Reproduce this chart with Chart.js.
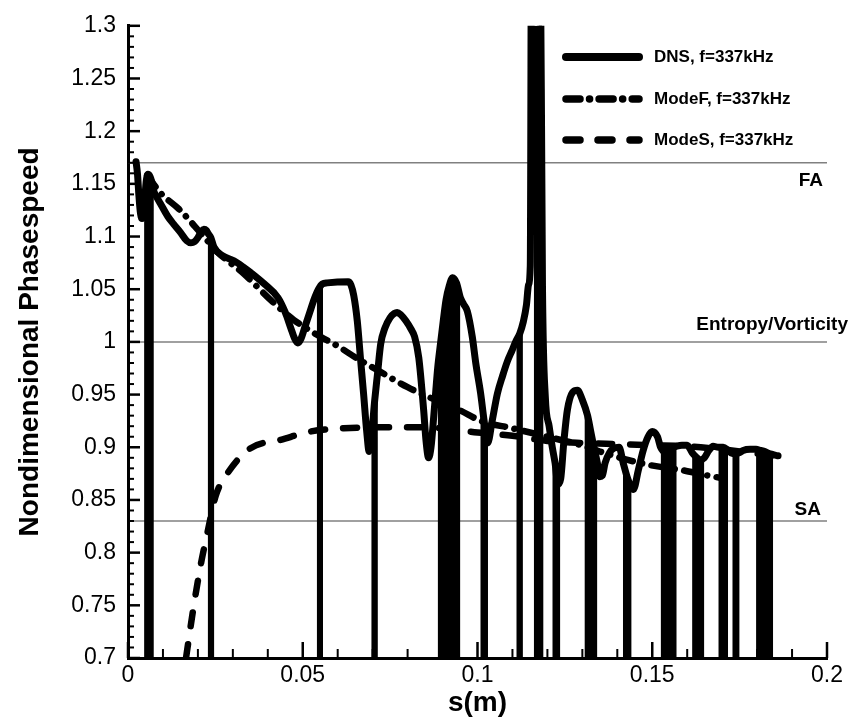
<!DOCTYPE html>
<html>
<head>
<meta charset="utf-8">
<script src="https://cdn.jsdelivr.net/npm/chart.js@4.4.1/dist/chart.umd.min.js"></script>
<style>
  body { margin: 0; background: #fff; }
</style>
</head>
<body>
<canvas id="chart" width="853" height="721"></canvas>
<script>
// s(m) vs nondimensional phase speed
const dnsPoints = [
  [0.0023, 1.171], [0.0027, 1.16], [0.0031, 1.14], [0.0035, 1.124], [0.0040, 1.117], [0.0044, 1.12],
  [0.0048, 1.135], [0.0052, 1.152], [0.0057, 1.159], [0.0063, 1.157], [0.0068, 1.152], [0.0074, 1.143],
  [0.0083, 1.137], [0.0095, 1.13], [0.0114, 1.119], [0.013, 1.112], [0.015, 1.104], [0.0168, 1.096],
  [0.018, 1.094], [0.019, 1.095], [0.0200, 1.099], [0.0210, 1.105], [0.0217, 1.107], [0.0224, 1.106],
  [0.0229, 1.103], [0.0237, 1.099], [0.0246, 1.09], [0.027, 1.082], [0.0303, 1.077], [0.033, 1.071],
  [0.035, 1.066], [0.039, 1.055], [0.0429, 1.042], [0.045, 1.028], [0.0466, 1.013], [0.0477, 1.003],
  [0.0486, 0.999], [0.0495, 1.003], [0.0507, 1.015], [0.052, 1.028], [0.0532, 1.04], [0.0545, 1.05],
  [0.0556, 1.055], [0.057, 1.056], [0.063, 1.057], [0.0638, 1.054], [0.0646, 1.044], [0.0656, 1.02],
  [0.0665, 0.985], [0.0674, 0.951], [0.0683, 0.915], [0.069, 0.896], [0.0697, 0.912], [0.0706, 0.945],
  [0.0714, 0.97], [0.0723, 0.998], [0.0735, 1.013], [0.075, 1.023], [0.0762, 1.027], [0.077, 1.028],
  [0.078, 1.026], [0.0795, 1.02], [0.081, 1.012], [0.082, 1.005], [0.0832, 0.985], [0.0846, 0.935],
  [0.0853, 0.905], [0.086, 0.890], [0.0867, 0.9], [0.0875, 0.93], [0.0881, 0.955], [0.0886, 0.975],
  [0.0894, 0.998], [0.0902, 1.02], [0.0910, 1.04], [0.0919, 1.053], [0.0929, 1.061], [0.0940, 1.056],
  [0.0951, 1.042], [0.0960, 1.036], [0.0971, 1.029], [0.0985, 1.005], [0.0995, 0.98], [0.1009, 0.951],
  [0.1019, 0.925], [0.1029, 0.904], [0.1042, 0.925], [0.1057, 0.951], [0.1072, 0.968], [0.1086, 0.982],
  [0.1099, 0.992], [0.1109, 1.0], [0.1121, 1.008], [0.1131, 1.019], [0.1140, 1.035], [0.1146, 1.054],
  [0.1151, 1.072], [0.1155, 1.45], [0.1178, 1.45], [0.1186, 1.05], [0.1194, 0.948], [0.1205, 0.92],
  [0.1214, 0.9], [0.1222, 0.885], [0.1230, 0.865], [0.1238, 0.87], [0.1247, 0.905], [0.1257, 0.935],
  [0.1272, 0.952], [0.1286, 0.954], [0.1300, 0.945], [0.1315, 0.93], [0.1324, 0.915], [0.1333, 0.9],
  [0.1343, 0.885], [0.135, 0.872], [0.1357, 0.873], [0.1365, 0.885], [0.1378, 0.895], [0.139, 0.899],
  [0.1405, 0.9], [0.1417, 0.885], [0.1428, 0.872], [0.1440, 0.862], [0.1446, 0.86], [0.1460, 0.878],
  [0.1474, 0.897], [0.1488, 0.91], [0.15, 0.915], [0.1515, 0.91], [0.1524, 0.9], [0.1535, 0.896],
  [0.155, 0.898], [0.157, 0.901], [0.1585, 0.902], [0.16, 0.902], [0.1614, 0.895], [0.1625, 0.891],
  [0.1637, 0.888], [0.1649, 0.89], [0.1662, 0.897], [0.1674, 0.901], [0.1689, 0.9], [0.1703, 0.9],
  [0.1717, 0.897], [0.1729, 0.894], [0.1740, 0.894], [0.1750, 0.895], [0.176, 0.897], [0.178, 0.898],
  [0.1797, 0.898], [0.1810, 0.897], [0.1822, 0.896], [0.1834, 0.894], [0.1846, 0.893], [0.1857, 0.892],
  [0.186, 0.892]
];

// DNS phase jumps: bands where the curve drops off the bottom of the plot (top outline of each)
const dnsBands = [
  [[0.0046, 1.125], [0.0052, 1.152], [0.0057, 1.159], [0.0063, 1.157], [0.0068, 1.152], [0.0074, 1.143]],
  [[0.0228, 1.104], [0.0237, 1.099], [0.0247, 1.089]],
  [[0.0540, 1.047], [0.0558, 1.055]],
  [[0.0696, 0.91], [0.0706, 0.945], [0.0715, 0.972]],
  [[0.0886, 0.975], [0.0894, 0.998], [0.0902, 1.02], [0.0910, 1.04], [0.0919, 1.053], [0.0929, 1.061], [0.0940, 1.056], [0.0951, 1.042]],
  [[0.1008, 0.953], [0.1019, 0.925], [0.1030, 0.904]],
  [[0.1111, 1.001], [0.1121, 1.008], [0.1130, 1.017]],
  [[0.1161, 1.45], [0.1178, 1.45], [0.1183, 1.15], [0.1189, 1.0]],
  [[0.1214, 0.9], [0.1222, 0.885], [0.1230, 0.865], [0.1237, 0.868]],
  [[0.1306, 0.94], [0.1315, 0.93], [0.1324, 0.915], [0.1333, 0.9], [0.1343, 0.885]],
  [[0.1416, 0.887], [0.1428, 0.872], [0.1441, 0.862]],
  [[0.1524, 0.9], [0.1535, 0.896], [0.1550, 0.898], [0.1570, 0.901]],
  [[0.1614, 0.895], [0.1625, 0.891], [0.1637, 0.888], [0.1649, 0.89]],
  [[0.1689, 0.9], [0.1703, 0.9], [0.1717, 0.897]],
  [[0.1729, 0.894], [0.1740, 0.894], [0.1750, 0.895]],
  [[0.1797, 0.898], [0.1810, 0.897], [0.1822, 0.896], [0.1834, 0.894], [0.1846, 0.893]]
];

const modeFPoints = [
  [0.0055, 1.158], [0.0094, 1.141], [0.0146, 1.126], [0.0209, 1.103], [0.0257, 1.085],
  [0.033, 1.065], [0.0414, 1.038], [0.0474, 1.021], [0.055, 1.005], [0.06, 0.996],
  [0.0657, 0.984], [0.072, 0.972], [0.08, 0.957], [0.09, 0.942], [0.095, 0.935],
  [0.101, 0.925], [0.11, 0.918], [0.12, 0.91], [0.1286, 0.903], [0.135, 0.896],
  [0.143, 0.888], [0.1494, 0.883], [0.159, 0.878], [0.1646, 0.874], [0.1694, 0.871]
];

const modeSPoints = [
  [0.0166, 0.700], [0.0186, 0.745], [0.0209, 0.790], [0.0228, 0.820], [0.0251, 0.854],
  [0.0286, 0.876], [0.035, 0.899], [0.0437, 0.907], [0.0523, 0.915], [0.0617, 0.918],
  [0.0723, 0.919], [0.082, 0.919], [0.09, 0.918], [0.1, 0.914], [0.11, 0.911],
  [0.12, 0.906], [0.13, 0.904], [0.14, 0.903], [0.15, 0.902], [0.16, 0.901],
  [0.17, 0.898], [0.18, 0.894], [0.186, 0.891]
];

// reference phase speeds: fast acoustic, entropy/vorticity, slow acoustic
const refNames = ['FA', 'Entropy/Vorticity', 'SA'];
const refValues = [1.17, 1.0, 0.83];

const seriesNames = ['DNS, f=337kHz', 'ModeF, f=337kHz', 'ModeS, f=337kHz'];

const xTicks = [0, 0.05, 0.1, 0.15, 0.2];
const xTickLabels = ['0', '0.05', '0.1', '0.15', '0.2'];
const yTicks = [0.7, 0.75, 0.8, 0.85, 0.9, 0.95, 1, 1.05, 1.1, 1.15, 1.2, 1.25, 1.3];
const yTickLabels = ['0.7', '0.75', '0.8', '0.85', '0.9', '0.95', '1', '1.05', '1.1', '1.15', '1.2', '1.25', '1.3'];

const FONT = "'Liberation Sans', Arial, sans-serif";

const toXY = pts => pts.map(p => ({ x: p[0], y: p[1] }));

// bands joined into one dataset, a null point between them breaks the fill
const bandData = [];
dnsBands.forEach(band => {
  bandData.push(...toXY(band));
  bandData.push({ x: band[band.length - 1][0] + 0.0001, y: null });
});

const refSets = refValues.map(v => ({
  data: [{ x: 0, y: v }, { x: 0.2, y: v }],
  borderColor: '#808080',
  borderWidth: 1.5,
  pointRadius: 0,
  order: 10
}));

const decorations = {
  id: 'decorations',
  afterDatasetsDraw(chart) {
    const { ctx, chartArea: a, scales: { x, y } } = chart;
    ctx.save();
    ctx.strokeStyle = '#000';
    ctx.lineCap = 'butt';

    // inward ticks, minor every 0.01
    for (let i = 0; i <= 20; i++) {
      const px = x.getPixelForValue(i / 100);
      const major = i % 5 === 0;
      ctx.lineWidth = major ? 2.5 : 2;
      ctx.beginPath();
      ctx.moveTo(px, a.bottom);
      ctx.lineTo(px, a.bottom - (major ? 16 : 9));
      ctx.stroke();
    }
    for (let i = 0; i <= 60; i++) {
      const py = y.getPixelForValue(0.7 + i / 100);
      const major = i % 5 === 0;
      ctx.lineWidth = major ? 2.5 : 2;
      ctx.beginPath();
      ctx.moveTo(a.left, py);
      ctx.lineTo(a.left + (major ? 12 : 6), py);
      ctx.stroke();
    }

    // labels for the reference lines
    ctx.fillStyle = '#000';
    ctx.font = 'bold 19px ' + FONT;
    ctx.textAlign = 'right';
    ctx.textBaseline = 'alphabetic';
    ctx.fillText(refNames[0], 823, y.getPixelForValue(refValues[0]) + 23);
    ctx.fillText(refNames[1], 848, y.getPixelForValue(refValues[1]) - 12);
    ctx.fillText(refNames[2], 821, y.getPixelForValue(refValues[2]) - 6);

    // legend
    const rows = [57, 99, 140];
    ctx.font = 'bold 17px ' + FONT;
    ctx.textAlign = 'left';
    ctx.textBaseline = 'middle';
    chart.data.datasets.slice(0, 3).forEach((ds, i) => {
      ctx.save();
      ctx.lineWidth = ds.borderWidth + 1;
      ctx.lineCap = 'round';
      ctx.setLineDash(ds.borderDash || []);
      ctx.beginPath();
      ctx.moveTo(566, rows[i]);
      ctx.lineTo(639, rows[i]);
      ctx.stroke();
      ctx.restore();
      ctx.fillText(seriesNames[i], 654, rows[i]);
    });
    ctx.restore();
  }
};

new Chart(document.getElementById('chart'), {
  type: 'line',
  data: {
    datasets: [
      {
        label: seriesNames[0],
        data: toXY(dnsPoints),
        borderColor: '#000',
        borderWidth: 7,
        borderJoinStyle: 'round',
        borderCapStyle: 'round',
        cubicInterpolationMode: 'monotone',
        pointRadius: 0,
        clip: 0,
        order: 1
      },
      {
        label: seriesNames[1],
        data: toXY(modeFPoints),
        borderColor: '#000',
        borderWidth: 6.5,
        borderDash: [14, 9.5, 0.1, 9.5],
        borderCapStyle: 'round',
        cubicInterpolationMode: 'monotone',
        pointRadius: 0,
        clip: 0,
        order: 2
      },
      {
        label: seriesNames[2],
        data: toXY(modeSPoints),
        borderColor: '#000',
        borderWidth: 6.5,
        borderDash: [14, 18],
        borderCapStyle: 'round',
        cubicInterpolationMode: 'monotone',
        pointRadius: 0,
        clip: 0,
        order: 3
      },
      {
        label: 'DNS jumps',
        data: bandData,
        borderColor: '#000',
        backgroundColor: '#000',
        borderWidth: 3,
        fill: 'start',
        spanGaps: false,
        tension: 0,
        pointRadius: 0,
        clip: 0,
        order: 1
      },
      ...refSets
    ]
  },
  options: {
    responsive: false,
    animation: false,
    devicePixelRatio: 1,
    layout: { padding: { left: 10, top: 17, right: 26, bottom: 0 } },
    plugins: {
      legend: { display: false },
      tooltip: { enabled: false }
    },
    scales: {
      x: {
        type: 'linear',
        min: 0,
        max: 0.2,
        grid: { display: false, drawTicks: false },
        border: { display: true, color: '#000', width: 3 },
        afterBuildTicks: s => { s.ticks = xTicks.map(v => ({ value: v })); },
        afterFit: s => { s.height = 63; },
        ticks: {
          color: '#000',
          padding: 4,
          maxRotation: 0,
          font: { family: FONT, size: 23 },
          callback: (v, i) => xTickLabels[i]
        },
        title: {
          display: true,
          text: 's(m)',
          color: '#000',
          font: { family: FONT, size: 28, weight: 'bold' },
          padding: { top: 0, bottom: 1 }
        }
      },
      y: {
        type: 'linear',
        min: 0.7,
        max: 1.3,
        grid: { display: false, drawTicks: false },
        border: { display: true, color: '#000', width: 3 },
        afterBuildTicks: s => { s.ticks = yTicks.map(v => ({ value: v })); },
        afterFit: s => { s.width = 118; },
        ticks: {
          color: '#000',
          padding: 12,
          font: { family: FONT, size: 23 },
          callback: (v, i) => yTickLabels[i]
        },
        title: {
          display: true,
          text: 'Nondimensional Phasespeed',
          color: '#000',
          font: { family: FONT, size: 28, weight: 'bold' },
          padding: { top: 3, bottom: 0 }
        }
      }
    }
  },
  plugins: [decorations]
});
</script>
</body>
</html>
